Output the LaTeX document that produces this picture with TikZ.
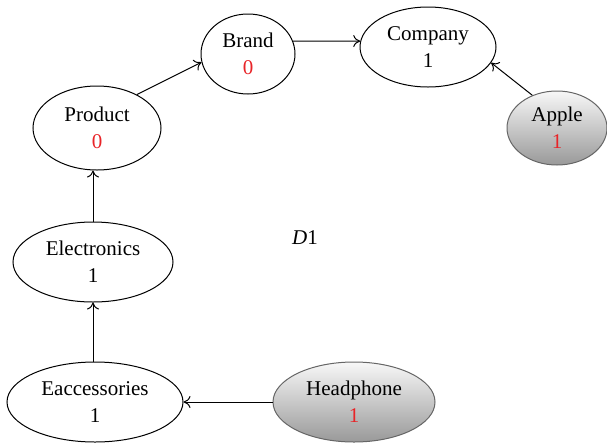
\documentclass[tikz,border=0pt]{standalone}
\usepackage{fontspec}
\setmainfont{Liberation Serif}
\usetikzlibrary{shapes.geometric,arrows.meta}
\definecolor{valred}{RGB}{232,36,40}
\tikzset{
  x=1pt, y=-1pt,
  concept/.style={ellipse, draw=black, line width=1pt, inner sep=0pt,
    align=center, font=\fontsize{21}{27}\selectfont},
  source/.style={concept, draw=black!60, top color=black!3, bottom color=black!40},
  link/.style={line width=1pt, -{To[length=7pt,width=12pt]}}
}
\begin{document}
\begin{tikzpicture}
\useasboundingbox (0,0) rectangle (607,445);
% concept nodes
\node[concept, minimum width=94pt, minimum height=80pt] (br) at (248,54) {Brand\\\textcolor{valred}{0}};
\node[concept, minimum width=136pt, minimum height=80pt] (co) at (428,47) {Company\\1};
\node[source, minimum width=100pt, minimum height=74pt] (ap) at (557,128) {Apple\\\textcolor{valred}{1}};
\node[concept, minimum width=128pt, minimum height=84pt] (pr) at (97,128) {Product\\\textcolor{valred}{0}};
\node[concept, minimum width=160pt, minimum height=80pt] (el) at (93,262) {Electronics\\1};
\node[concept, minimum width=176pt, minimum height=80pt] (ea) at (95,402) {Eaccessories\\1};
\node[source, minimum width=162pt, minimum height=80pt] (hp) at (354,402) {Headphone\\\textcolor{valred}{1}};
\node[font=\fontsize{21}{24}\selectfont] (lbl) at (305,238) {\textit{D}1};
% relations
\draw[link] (hp.west) -- (ea.east);
\draw[link] (ea.north -| el.south) -- (el.south);
\draw[link] (el.north) -- (el.north |- pr.south);
\draw[link] (pr.40) -- (br.190);
\draw[link] (br.16) -- (co.175);
\draw[link] (ap.127) -- (co.-14);
\end{tikzpicture}
\end{document}
